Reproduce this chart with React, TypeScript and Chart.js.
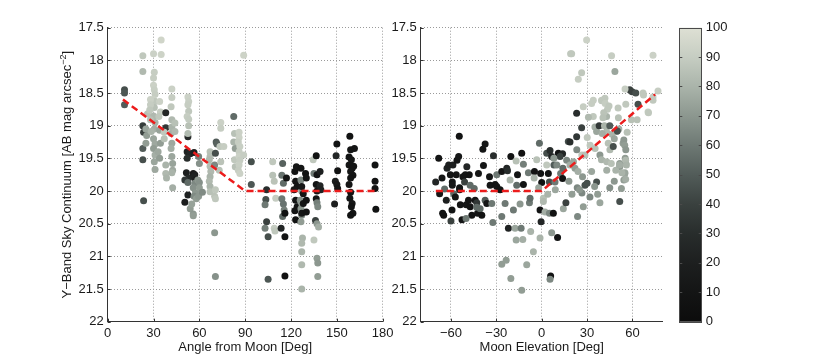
import React, { useEffect, useRef } from "react";
import { Chart, registerables } from "chart.js";
Chart.register(...registerables);

// ---------- data ----------
const magTicks = [17.5, 18, 18.5, 19, 19.5, 20, 20.5, 21, 21.5, 22];
const angleTicks = [0, 30, 60, 90, 120, 150, 180];
const elevTicks = [-60, -30, 0, 30, 60];
const phaseTicks = [0, 10, 20, 30, 40, 50, 60, 70, 80, 90, 100];

const leftFitX = [10, 90, 175];
const leftFitY = [18.6, 20, 20];
const rightFitX = [-70, 0, 75];
const rightFitY = [20, 20, 18.52];

const leftAngle = [
  11, 11, 11,
  23, 23, 23, 23.5, 23, 23, 23.5,
  25, 25.5, 25, 26,
  30, 30.5, 30, 30, 30.5, 31, 30, 31, 30.5, 30, 31, 30.5, 30, 31, 30, 31, 30.5, 31,
  28, 28, 27.5, 28, 28.5,
  35, 35, 34, 34.5, 33.5, 34, 34.5, 33, 34,
  38, 38,
  38, 38, 38.5, 37, 37,
  42, 42, 41.5, 42, 42, 41.5, 42, 41.5, 42, 42.5, 42.5, 42, 42.5, 44, 44,
  52.5, 52, 54, 52, 51.5, 53, 50.5, 52.5, 52.5, 50.5,
  52.5, 53, 52.5, 53, 52, 53, 53, 52.5,
  54, 56, 56, 55,
  56.5, 56, 57, 56.5, 57.5, 57, 56, 57.5, 56.5, 58,
  59.5, 60, 59, 60, 60, 59.5, 62,
  67, 67, 66.5, 67, 67.5, 67, 66.5, 67, 67,
  71, 71.5, 70.5, 70, 70.5, 70, 70.5, 70, 70.5,
  74, 74, 73.5, 74, 73, 76,
  82.5, 83, 82.5, 83.5, 83, 83.5,
  86, 86, 85.5, 86.5, 86, 86, 86.5, 86, 85.5, 86.5,
  89, 89,
  94, 94,
  104, 103.5, 103, 104, 103, 105, 105,
  108, 108, 109, 110, 109, 109.5,
  114.5, 114, 115, 114, 115, 115.5, 114.5, 113.5, 116, 116, 117, 116,
  122.5, 123, 124, 122, 123, 124, 122.5, 123, 123.5,
  126.5, 127, 126, 127, 126.5, 127, 126.5, 127.5, 127, 127, 127, 127,
  126.5, 127, 128, 127, 128,
  129.5, 130, 130, 130,
  134.5, 135, 135, 136.5, 137, 136.5, 137, 136.5, 136, 137, 137.5, 137, 138, 137, 137.5, 137.5,
  139, 139, 139.5,
  150, 149.5, 150.5, 149, 150, 150.5, 148.5,
  158.5, 159, 158, 159.5, 158, 160, 159, 160.5, 159, 158, 159, 158.5, 160, 159.5, 160.5, 159, 161.5, 161,
  175, 175, 175, 175.5,
];
const leftMag = [
  18.45, 18.5, 18.68,
  17.93, 18.17, 19.0, 19.1, 19.35, 19.52, 20.15,
  19.05, 19.15, 19.27, 18.82,
  17.9, 18.18, 18.27, 18.38, 18.45, 18.52, 18.6, 18.63, 18.72, 18.85, 18.95, 19.05, 19.2, 19.28, 19.35, 19.45, 19.55, 19.67,
  18.6, 18.68, 18.76, 18.91, 19.09,
  17.69, 17.91, 18.63, 18.79, 18.86, 19.07, 19.27, 19.4, 19.5,
  18.8, 19.03,
  19.6, 19.73, 19.8, 19.2, 19.1,
  18.44, 18.57, 18.71, 18.91, 19.02, 19.12, 19.27, 19.35, 19.47, 19.58, 19.68, 19.72, 19.95, 18.96, 19.09,
  19.17, 19.4, 19.43, 19.5, 19.72, 19.8, 19.83, 19.87, 20.06, 20.17,
  18.56, 18.63, 18.68, 18.78, 18.86, 18.9, 19.0, 19.12,
  20.27, 20.35, 20.38, 20.2,
  19.41, 19.73, 19.75, 19.78, 19.83, 19.88, 19.95, 20.03, 20.08, 20.12,
  19.47, 19.58, 19.83, 19.87, 19.95, 20.08, 20.02,
  19.4, 19.47, 19.52, 19.62, 19.7, 19.78, 19.85, 19.93, 20.01,
  19.25, 19.28, 19.42, 19.6, 19.98, 20.08, 20.12, 20.64, 21.31,
  18.95, 19.04, 19.32, 19.55, 19.68, 19.32,
  18.86, 19.12, 19.25, 19.35, 19.52, 19.63,
  19.1, 19.18, 19.25, 19.32, 19.4, 19.47, 19.53, 19.6, 19.68, 19.73,
  17.92, 19.45,
  19.55, 19.9,
  19.98, 20.13, 20.21, 20.47, 20.57, 20.7, 21.35,
  19.55, 19.76, 19.85, 20.11, 20.57, 20.61,
  19.58, 19.76, 19.88, 20.12, 20.2, 20.29, 20.39, 20.57, 20.7, 21.3, 19.8, 20.34,
  19.7, 19.85, 19.93, 19.98, 20.14, 20.24, 20.3, 20.44, 19.63,
  19.83, 20.0, 20.14, 20.19, 20.27, 20.37, 20.47, 20.72, 20.8, 20.93, 21.13, 21.5,
  19.65, 19.93, 20.04, 20.34, 20.19,
  19.73, 19.8, 20.14, 20.32,
  19.52, 19.73, 20.75, 19.46, 19.75, 19.9, 20.0, 20.12, 20.45, 20.18, 20.24, 20.5, 20.55, 21.03, 21.1, 21.31,
  19.7, 19.92, 19.98,
  19.28, 19.46, 19.69, 19.85, 19.9, 19.96, 20.2,
  19.16, 19.37, 19.48, 19.52, 19.6, 19.65, 19.7, 19.76, 19.8, 19.9, 20.02, 20.11, 20.19, 20.24, 20.34, 20.37, 19.35, 19.62,
  19.6, 19.85, 19.96, 20.28,
];
const leftPhase = [
  45, 48, 50,
  88, 82, 38, 40, 50, 45, 45,
  75, 72, 72, 85,
  92, 90, 90, 92, 91, 90, 92, 88, 85, 82, 80, 78, 75, 76, 72, 78, 75, 76,
  92, 90, 88, 85, 80,
  94, 93, 92, 90, 88, 74, 72, 76, 72,
  25, 35,
  80, 82, 80, 85, 88,
  92, 90, 88, 82, 80, 78, 76, 78, 75, 74, 76, 80, 78, 85, 82,
  28, 22, 25, 30, 20, 28, 35, 55, 22, 18,
  92, 91, 90, 88, 90, 89, 85, 83,
  72, 70, 72, 74,
  18, 15, 20, 22, 18, 65, 68, 70, 66, 72,
  62, 68, 70, 68, 72, 70, 66,
  85, 84, 82, 84, 82, 80, 82, 80, 85,
  50, 52, 45, 65, 88, 86, 88, 70, 68,
  92, 90, 88, 86, 85, 90,
  55, 85, 80, 72, 88, 85,
  92, 92, 90, 91, 90, 92, 90, 91, 90, 92,
  93, 90,
  45, 48,
  30, 45, 60, 40, 62, 45, 48,
  88, 85, 86, 90, 90, 88,
  52, 58, 55, 60, 58, 62, 55, 25, 8, 8, 10, 8,
  8, 10, 8, 12, 10, 8, 10, 8, 12,
  65, 70, 68, 72, 70, 66, 72, 80, 82, 80, 82, 80,
  10, 12, 10, 12, 10,
  8, 10, 8, 10,
  88, 60, 88, 8, 10, 10, 12, 10, 40, 62, 65, 70, 78, 72, 70, 72,
  20, 25, 22,
  8, 25, 8, 20, 15, 12, 20,
  8, 10, 8, 12, 10, 8, 12, 10, 8, 10, 8, 10, 12, 8, 10, 8, 10, 10,
  8, 8, 8, 8,
];

const rightElev = [
  -70.1, -68.1, -67.5, -65.9, -65.5, -64.8, -64.2, -63.1, -62.6, -61.5,
  -58.7, -60.4, -60, -59.1, -59.1, -59.3, -58.2, -57.1, -56.5, -56,
  -54.9, -54.5, -54.3, -54.3, -53.8, -52.7, -52.1, -51, -50.5, -49.9,
  -49.5, -48.4, -47.3, -47.9, -47.3, -46.2, -44.6, -44, -42.9, -42.4,
  -41.8, -40.7, -39.6, -38.9, -37.4, -38.5, -37.4, -36.3, -34.5, -34.1,
  -33, -32.3, -31.9, -30.8, -29.7, -29.7, -27.5, -26.4, -26.4, -26.4,
  -23.5, -24.2, -23.1, -22.6, -22, -20.9, -20.4, -20.4, -18.7, -17.6,
  -16.9, -16.9, -16.5, -16, -14.3, -13.6, -12.5, -13.2, -13.2, -12.1,
  -12.1, -9.9, -8.8, -8.1, -7.7, -7.3, -5.5, -4.8, -3.3, -1.5,
  -1.1, -1.1, -0.7, 0, -0.4, 1.1, 1.1, 2.2, 3.3, 3.3,
  4.4, 5.5, 5.1, 5.1, 6.6, 6.6, 5.9, 5.5, 7.7, 8.1,
  8.8, 10.5, 11, 13.8, 12.1, 12.5, 13.8, 14.3, 16, 16.5,
  17.6, 18.7, 19.1, 19.8, 23.1, 23.1, 23.7, 24.2, 26.4, 26.4,
  26.6, 27, 27.5, 28.6, 29.7, 30.1, 31.9, 33, 34.1, 34.1,
  35.2, 36.3, 36.3, 38, 38.5, 38.5, 39.6, 41.8, 42.9, 42.9,
  44, 45.1, 46.2, 47.3, 48.4, 49.5, 50.5, 51.6, 51.6, 51.6,
  52.7, 53.8, 54.3, 54.9, 55.6, 55.2, 55.6, 54.9, 54.3, 55.6,
  58.2, 59.8, 62.2, 59.3, 63.1, 63.7, 67, 70.3, 73.6, 73.6,
  73.6, 76.9, 55.1, 67.3, 70.6, 39.7, 42, 43.5, 41, 40.5,
  44.5, 27.5, 30.9, 50.7, 41.5, 45, 43, 40, 46.5, 48,
  51, 50, 56.5, 32, 35.3, 26.5, 28.6, 23.2, 18.7, 21,
  22, 24, 39.5, 43, 46, 43, 49, 51.5, 55.5, 56,
  55, 53, 55.5, 23.5, 25, 30, 8, 10, 14, -5,
  -2, 4, 9, 18, 20, 33, 35, 37, 45, 48,
  -50, -43,
];
const rightMag = [
  19.86, 19.5, 20.04, 19.8, 20.34, 20.37, 19.97, 20.14, 19.65, 19.6,
  19.6, 19.75, 20.46, 19.86, 19.91, 20.29, 20.04, 20.09, 19.75, 19.53,
  19.47, 19.16, 19.95, 19.98, 20.21, 20.44, 19.78, 19.86, 19.75, 20.21,
  19.63, 20.14, 20.24, 19.75, 19.91, 20.37, 19.96, 20.14, 20.18, 20.34,
  19.73, 20.27, 20.37, 19.36, 19.28, 19.61, 20.14, 20.19, 19.78, 19.91,
  20.19, 20.48, 19.46, 19.9, 19.93, 19.75, 19.98, 19.7, 20.39, 21.12,
  21.06, 20.19, 19.65, 19.69, 20.57, 19.83, 21.34, 19.47, 20.29, 20.57,
  20.75, 19.54, 19.91, 19.75, 20.2, 20.57, 20.74, 19.42, 21.52, 19.9,
  19.59, 21.13, 19.72, 20.18, 20.11, 20.62, 20.93, 19.7, 19.52, 19.27,
  20.72, 20.29, 19.73, 19.87, 20.47, 20.11, 20.16, 20.32, 19.6, 19.42,
  19.73, 19.38, 19.86, 20.34, 20.64, 19.47, 21.3, 21.35, 20.34, 19.6,
  19.86, 20.71, 19.42, 19.43, 19.47, 19.73, 19.81, 20.27, 20.18, 19.53,
  19.24, 19.6, 17.9, 17.9, 19.17, 18.81, 20.39, 18.29, 18.19, 19.03,
  20.03, 19.78, 20.24, 19.91, 17.69, 19.18, 20.09, 18.66, 18.61, 18.86,
  19.02, 19.09, 19.86, 19.0, 19.45, 20.18, 18.61, 18.58, 18.86, 19.02,
  19.27, 19.37, 17.93, 19.32, 18.17, 19.09, 18.73, 20.16, 19.63, 19.58,
  19.96, 19.27, 19.22, 19.3, 19.37, 19.5, 19.58, 19.73, 19.83, 18.67,
  18.45, 18.48, 18.5, 18.91, 18.91, 18.67, 18.5, 18.79, 17.92, 18.56,
  18.61, 18.47, 18.44, 18.53, 18.8, 18.62, 18.66, 18.75, 18.8, 18.88,
  18.7, 18.71, 18.87, 18.88, 19.0, 19.0, 19.1, 19.12, 19.13, 19.2,
  19.05, 19.08, 19.1, 19.3, 19.35, 19.45, 19.45, 19.37, 19.25, 19.55,
  19.65, 19.7, 19.52, 19.55, 19.58, 19.68, 19.68, 19.6, 19.53, 19.6,
  19.72, 19.72, 19.82, 19.95, 19.98, 19.88, 19.5, 19.6, 19.65, 19.8,
  19.95, 20.05, 19.98, 19.85, 20.05, 19.7, 19.93, 20.05, 19.95, 19.85,
  20.42, 20.25,
];
const rightPhase = [
  25, 10, 12, 10, 8, 8, 55, 20, 22, 20,
  20, 10, 40, 10, 12, 8, 55, 10, 10, 10,
  12, 8, 8, 10, 10, 10, 10, 40, 10, 12,
  25, 10, 10, 8, 55, 8, 55, 10, 35, 10,
  12, 55, 8, 10, 12, 10, 50, 12, 10, 10,
  60, 60, 30, 8, 10, 60, 8, 10, 60, 72,
  72, 60, 25, 30, 22, 80, 72, 8, 60, 75,
  75, 85, 55, 8, 70, 60, 78, 8, 72, 8,
  62, 75, 60, 60, 55, 80, 80, 8, 85, 55,
  80, 8, 8, 8, 25, 85, 82, 78, 88, 45,
  8, 30, 45, 65, 70, 25, 8, 65, 8, 50,
  60, 8, 8, 25, 40, 60, 8, 75, 40, 65,
  45, 78, 88, 88, 35, 30, 65, 90, 88, 40,
  65, 70, 72, 45, 92, 88, 65, 90, 90, 88,
  78, 75, 45, 35, 70, 75, 90, 88, 80, 75,
  85, 82, 90, 45, 75, 70, 88, 45, 70, 72,
  72, 72, 70, 72, 70, 72, 70, 70, 72, 88,
  40, 40, 45, 85, 85, 45, 88, 90, 92, 90,
  88, 90, 90, 88, 88, 88, 90, 88, 86, 85,
  88, 90, 82, 85, 80, 50, 82, 78, 80, 75,
  78, 45, 85, 88, 85, 88, 85, 65, 30, 75,
  72, 78, 80, 82, 85, 78, 80, 78, 82, 80,
  75, 80, 78, 65, 70, 45, 70, 65, 55, 80,
  75, 80, 75, 70, 72, 75, 70, 72, 68, 70,
  60, 55,
];

// ---------- style ----------
const FONT = "'Liberation Sans', Arial, Helvetica, sans-serif";
const TEXT = "#1a1a1a";
const AXIS = "#333333";
const GRID = "#9a9a9a";
const FIT = "rgb(236,28,28)";

const cmapPos = [0, 10, 20, 30, 40, 50, 60, 70, 80, 90, 100];
const cmapRGB = [
  [12, 12, 12], [20, 21, 21], [29, 31, 31], [40, 45, 44], [58, 65, 63],
  [82, 92, 89], [110, 121, 116], [140, 151, 143], [170, 180, 170],
  [198, 205, 194], [222, 224, 212],
];
function phaseColor(p: number): string {
  const v = Math.max(0, Math.min(100, p));
  let i = 0;
  while (i < cmapPos.length - 2 && v > cmapPos[i + 1]) i++;
  const t = (v - cmapPos[i]) / (cmapPos[i + 1] - cmapPos[i]);
  const a = cmapRGB[i], b = cmapRGB[i + 1];
  const c = a.map((x, k) => Math.round(x + (b[k] - x) * t));
  return `rgb(${c[0]},${c[1]},${c[2]})`;
}

const fmtMinus = (v: number) => (v < 0 ? "\u2212" + Math.abs(v) : String(v));

const innerTicks = {
  id: "innerTicks",
  afterDraw(chart: any) {
    const { ctx, chartArea } = chart;
    const x = chart.scales.x, y = chart.scales.y;
    ctx.save();
    ctx.strokeStyle = AXIS;
    ctx.lineWidth = 1;
    ctx.beginPath();
    x.ticks.forEach((t: any) => {
      const px = Math.round(x.getPixelForValue(t.value)) + 0.5;
      ctx.moveTo(px, chartArea.bottom);
      ctx.lineTo(px, chartArea.bottom - 3);
    });
    y.ticks.forEach((t: any) => {
      const py = Math.round(y.getPixelForValue(t.value)) + 0.5;
      ctx.moveTo(chartArea.left, py);
      ctx.lineTo(chartArea.left + 3, py);
    });
    ctx.stroke();
    ctx.restore();
  },
};

function yTitle(cx: number) {
  return {
    id: "yTitle",
    afterDraw(chart: any) {
      const ctx = chart.ctx;
      const { top, bottom } = chart.chartArea;
      const main = "Y\u2212Band Sky Continuum [AB mag arcsec";
      const sup = "\u22122";
      const end = "]";
      ctx.save();
      ctx.font = `13px ${FONT}`;
      const w1 = ctx.measureText(main).width;
      const w3 = ctx.measureText(end).width;
      ctx.font = `9px ${FONT}`;
      const w2 = ctx.measureText(sup).width;
      const total = w1 + w2 + w3;
      ctx.translate(cx, (top + bottom) / 2);
      ctx.rotate(-Math.PI / 2);
      ctx.fillStyle = TEXT;
      ctx.textBaseline = "alphabetic";
      ctx.textAlign = "left";
      let xx = -total / 2;
      ctx.font = `13px ${FONT}`;
      ctx.fillText(main, xx, 0);
      xx += w1;
      ctx.font = `9px ${FONT}`;
      ctx.fillText(sup, xx, -5);
      xx += w2;
      ctx.font = `13px ${FONT}`;
      ctx.fillText(end, xx, 0);
      ctx.restore();
    },
  };
}

function scatterConfig(
  xs: number[], ys: number[], ph: number[],
  fx: number[], fy: number[],
  xMin: number, xMax: number, xTicks: number[], xTitle: string,
  yWidth: number, padRight: number, extraPlugins: any[]
): any {
  const n = Math.min(xs.length, ys.length, ph.length);
  const pts = [] as any[];
  const cols = [] as string[];
  for (let i = 0; i < n; i++) {
    pts.push({ x: xs[i], y: ys[i] });
    cols.push(phaseColor(ph[i]));
  }
  const fit = fx.map((v, i) => ({ x: v, y: fy[i] }));
  return {
    type: "scatter",
    data: {
      datasets: [
        {
          type: "line", data: fit, showLine: true, borderColor: FIT, borderWidth: 2.5,
          borderDash: [7, 4], pointRadius: 0, fill: false, tension: 0, order: 0,
        },
        {
          data: pts, backgroundColor: cols, pointRadius: 3.5, pointBorderWidth: 0,
          borderWidth: 0, order: 1,
        },
      ],
    },
    options: {
      responsive: false,
      animation: false,
      events: [],
      layout: { padding: { left: 0, top: 27.7, right: padRight, bottom: 0 } },
      plugins: { legend: { display: false }, tooltip: { enabled: false } },
      scales: {
        x: {
          type: "linear", min: xMin, max: xMax,
          afterBuildTicks: (s: any) => { s.ticks = xTicks.map((v) => ({ value: v })); },
          afterFit: (s: any) => { s.height = 40.3; },
          ticks: {
            padding: 4, color: TEXT, font: { size: 13, family: FONT }, maxRotation: 0,
            autoSkip: false, callback: (v: any) => fmtMinus(Number(v)),
          },
          grid: { color: GRID, lineWidth: 1, drawTicks: false },
          border: { color: AXIS, width: 1, dash: [1, 2] },
          title: {
            display: true, text: xTitle, color: TEXT, font: { size: 13, family: FONT },
            padding: { top: 0, bottom: 7 },
          },
        },
        y: {
          type: "linear", reverse: true, min: 17.5, max: 22,
          afterBuildTicks: (s: any) => { s.ticks = magTicks.map((v) => ({ value: v })); },
          afterFit: (s: any) => { s.width = yWidth; },
          ticks: {
            padding: 4, color: TEXT, font: { size: 13, family: FONT }, autoSkip: false,
            callback: (v: any) => String(Number(v)),
          },
          grid: { color: GRID, lineWidth: 1, drawTicks: false },
          border: { color: AXIS, width: 1, dash: [1, 2] },
        },
      },
    },
    plugins: [innerTicks, ...extraPlugins],
  };
}

const colorbarPlugin = {
  id: "colorbar",
  beforeDatasetsDraw(chart: any) {
    const { ctx, chartArea } = chart;
    const { left, right, top, bottom } = chartArea;
    const g = ctx.createLinearGradient(0, bottom, 0, top);
    cmapPos.forEach((p) => g.addColorStop(p / 100, phaseColor(p)));
    ctx.save();
    ctx.fillStyle = g;
    ctx.fillRect(left, top, right - left, bottom - top);
    ctx.restore();
  },
  afterDraw(chart: any) {
    const { ctx, chartArea } = chart;
    const { left, right, top, bottom } = chartArea;
    const y = chart.scales.y;
    ctx.save();
    ctx.strokeStyle = "#4a4a4a";
    ctx.lineWidth = 1;
    ctx.strokeRect(Math.round(left) + 0.5, Math.round(top) + 0.5, Math.round(right - left), Math.round(bottom - top));
    ctx.beginPath();
    phaseTicks.forEach((v) => {
      const py = Math.round(y.getPixelForValue(v)) + 0.5;
      ctx.moveTo(left, py); ctx.lineTo(left + 3, py);
      ctx.moveTo(right, py); ctx.lineTo(right - 3, py);
    });
    ctx.stroke();
    // title
    ctx.font = `13px ${FONT}`;
    ctx.fillStyle = TEXT;
    ctx.textAlign = "center";
    ctx.textBaseline = "alphabetic";
    ctx.translate(740, (top + bottom) / 2);
    ctx.rotate(-Math.PI / 2);
    ctx.fillText("Moon Phase", 0, 0);
    ctx.restore();
  },
};

export default function App() {
  const leftRef = useRef<HTMLCanvasElement>(null);
  const rightRef = useRef<HTMLCanvasElement>(null);
  const cbRef = useRef<HTMLCanvasElement>(null);

  useEffect(() => {
    Chart.defaults.font.family = FONT;
    const c1 = new Chart(
      leftRef.current as HTMLCanvasElement,
      scatterConfig(leftAngle, leftMag, leftPhase, leftFitX, leftFitY, 0, 180, angleTicks,
        "Angle from Moon [Deg]", 107.7, 17.3, [yTitle(71)])
    );
    const c2 = new Chart(
      rightRef.current as HTMLCanvasElement,
      scatterConfig(rightElev, rightMag, rightPhase, rightFitX, rightFitY, -80, 80, elevTicks,
        "Moon Elevation [Deg]", 37.7, 17.3, [])
    );
    const c3 = new Chart(cbRef.current as HTMLCanvasElement, {
      type: "scatter",
      data: { datasets: [] },
      options: {
        responsive: false,
        animation: false,
        events: [],
        layout: { padding: { left: 9.3, top: 27.7, right: 0, bottom: 40.3 } },
        plugins: { legend: { display: false }, tooltip: { enabled: false } },
        scales: {
          x: { type: "linear", display: false, min: 0, max: 1 },
          y: {
            type: "linear", position: "right", min: 0, max: 100,
            afterBuildTicks: (s: any) => { s.ticks = phaseTicks.map((v) => ({ value: v })); },
            afterFit: (s: any) => { s.width = 128.3; },
            ticks: { padding: 4, color: TEXT, font: { size: 13, family: FONT }, autoSkip: false },
            grid: { display: false, drawTicks: false },
            border: { display: false },
          },
        },
      } as any,
      plugins: [colorbarPlugin],
    } as any);
    return () => { c1.destroy(); c2.destroy(); c3.destroy(); };
  }, []);

  return (
    <div style={{ position: "absolute", left: 0, top: 0, width: 830, height: 362, background: "#fff" }}>
      <canvas ref={leftRef} width={400} height={362} style={{ position: "absolute", left: 0, top: 0 }} />
      <canvas ref={rightRef} width={297} height={362} style={{ position: "absolute", left: 383, top: 0 }} />
      <canvas ref={cbRef} width={160} height={362} style={{ position: "absolute", left: 670, top: 0 }} />
    </div>
  );
}
